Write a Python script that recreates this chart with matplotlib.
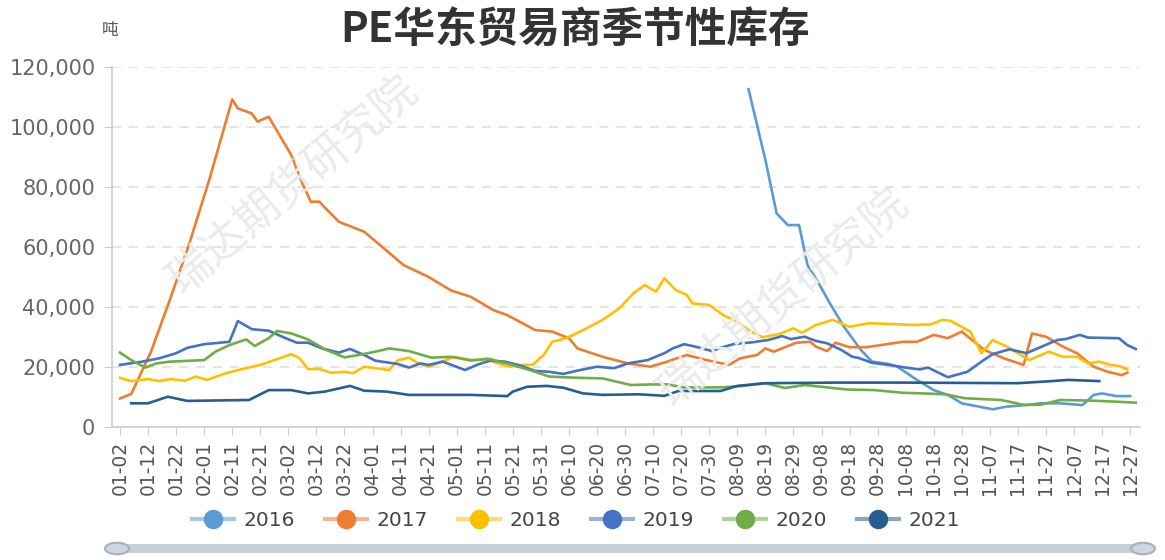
import matplotlib
matplotlib.use("Agg")
import matplotlib.pyplot as plt
from matplotlib.lines import Line2D
from matplotlib.patches import FancyBboxPatch, Circle
import matplotlib.colors as mcolors
import pandas as pd

plt.rcParams['font.family'] = ['DejaVu Sans', 'Noto Sans CJK SC']

title = "PE华东贸易商季节性库存"
unit = "吨"
watermark = "瑞达期货研究院"

tick_labels = ["01-02", "01-12", "01-22", "02-01", "02-11", "02-21", "03-02", "03-12",
               "03-22", "04-01", "04-11", "04-21", "05-01", "05-11", "05-21", "05-31",
               "06-10", "06-20", "06-30", "07-10", "07-20", "07-30", "08-09", "08-19",
               "08-29", "09-08", "09-18", "09-28", "10-08", "10-18", "10-28", "11-07",
               "11-17", "11-27", "12-07", "12-17", "12-27"]

dates_2016 = ["08-13", "08-19", "08-23", "08-27", "08-31", "09-03", "09-07", "09-11",
              "09-16", "09-22", "09-26", "10-02", "10-05", "10-12", "10-18", "10-23",
              "10-28", "11-03", "11-08", "11-13", "11-20", "11-25", "12-02", "12-10",
              "12-14", "12-17", "12-22", "12-27"]
vals_2016 = [112600, 89000, 71200, 67300, 67300, 54000, 47900, 41200,
             33400, 25700, 21800, 21000, 20100, 15700, 12300, 10700,
             7900, 6800, 5900, 6800, 7300, 7900, 7900, 7300,
             10700, 11200, 10300, 10300]

dates_2017 = ["01-02", "01-06", "01-13", "01-20", "01-27", "02-03", "02-11", "02-13",
              "02-18", "02-20", "02-24", "03-03", "03-07", "03-10", "03-13", "03-20",
              "03-29", "04-05", "04-12", "04-21", "04-29", "05-06", "05-14", "05-19",
              "05-29", "06-04", "06-10", "06-13", "06-22", "07-01", "07-09", "07-15",
              "07-22", "07-29", "08-06", "08-10", "08-16", "08-19", "08-22", "08-30",
              "09-04", "09-06", "09-10", "09-13", "09-18", "09-24", "10-02", "10-07",
              "10-12", "10-18", "10-23", "10-28", "11-05", "11-12", "11-19", "11-22",
              "11-27", "12-03", "12-08", "12-14", "12-19", "12-24", "12-26"]
vals_2017 = [9500, 11000, 25000, 43000, 62000, 83000, 109200, 106200,
             104500, 101800, 103400, 90700, 81200, 75100, 75100, 68400,
             65100, 59600, 54000, 50000, 45500, 43400, 39000, 37300,
             32300, 31800, 29600, 26200, 23400, 21200, 20100, 21800,
             24000, 22300, 20700, 22900, 24000, 26200, 25100, 28100,
             28400, 26800, 25300, 28100, 26600, 26600, 27700, 28400,
             28400, 30700, 29600, 31800, 25700, 22900, 20700, 31200,
             30100, 26800, 24600, 20100, 18400, 17300, 18100]

dates_2018 = ["01-02", "01-06", "01-12", "01-16", "01-20", "01-25", "01-29", "02-02",
              "02-08", "02-14", "02-21", "02-26", "03-03", "03-06", "03-09", "03-13",
              "03-17", "03-22", "03-25", "03-29", "04-02", "04-07", "04-10", "04-14",
              "04-17", "04-21", "04-26", "04-30", "05-06", "05-12", "05-15", "05-20",
              "05-25", "05-28", "06-01", "06-04", "06-09", "06-15", "06-22", "06-28",
              "07-03", "07-07", "07-11", "07-14", "07-18", "07-22", "07-24", "07-30",
              "08-04", "08-09", "08-13", "08-18", "08-24", "08-29", "09-01", "09-06",
              "09-12", "09-18", "09-25", "10-11", "10-17", "10-21", "10-24", "10-31",
              "11-04", "11-08", "11-13", "11-18", "11-21", "11-28", "12-03", "12-08",
              "12-12", "12-16", "12-20", "12-23", "12-26"]
vals_2018 = [16400, 15300, 16000, 15300, 16000, 15400, 16800, 15700,
             17700, 19200, 20700, 22300, 24300, 22900, 19300, 19400,
             18100, 18400, 17900, 20100, 19600, 19000, 22300, 23100,
             21400, 20100, 21800, 23400, 22000, 22900, 21400, 20100,
             20700, 20700, 24000, 28400, 29600, 32300, 35700, 39600,
             44600, 47300, 45100, 49600, 45700, 44000, 41200, 40700,
             37300, 35100, 32300, 29900, 31000, 32900, 31400, 34000,
             35700, 33400, 34600, 34000, 34200, 35700, 35400, 31800,
             24600, 29000, 26800, 24000, 22300, 25100, 23400, 23400,
             21200, 21800, 20700, 20300, 19200]

dates_2019 = ["01-02", "01-10", "01-16", "01-22", "01-26", "02-01", "02-10", "02-13",
              "02-18", "02-24", "03-01", "03-05", "03-09", "03-14", "03-20", "03-24",
              "03-29", "04-02", "04-10", "04-14", "04-18", "04-21", "04-26", "05-04",
              "05-09", "05-13", "05-18", "05-23", "05-29", "06-03", "06-08", "06-13",
              "06-20", "06-26", "07-01", "07-08", "07-14", "07-17", "07-21", "07-25",
              "07-31", "08-03", "08-08", "08-14", "08-20", "08-25", "08-28", "09-02",
              "09-06", "09-10", "09-15", "09-19", "09-21", "09-26", "10-02", "10-08",
              "10-13", "10-16", "10-23", "10-30", "11-04", "11-08", "11-14", "11-20",
              "11-26", "12-01", "12-04", "12-09", "12-12", "12-23", "12-26", "12-29"]
vals_2019 = [20700, 21800, 22900, 24600, 26400, 27600, 28400, 35300,
             32600, 32100, 29600, 28100, 28100, 26200, 24800, 26000,
             24000, 22100, 21000, 19800, 21200, 20700, 21800, 19000,
             21000, 22100, 21800, 20700, 18700, 18400, 17700, 18800,
             20100, 19600, 21200, 22300, 24600, 26200, 27600, 26800,
             25300, 26400, 27700, 28200, 29000, 30300, 29300, 30100,
             28700, 27900, 25700, 23400, 23100, 21400, 20700, 19800,
             19200, 19800, 16600, 18400, 21800, 24300, 25900, 24600,
             27000, 29000, 29300, 30700, 29800, 29600, 27300, 26000]

dates_2020 = ["01-02", "01-06", "01-11", "01-15", "01-20", "02-01", "02-05", "02-10",
              "02-16", "02-19", "02-24", "02-27", "03-03", "03-09", "03-15", "03-22",
              "03-27", "04-02", "04-07", "04-14", "04-22", "04-29", "05-06", "05-13",
              "05-20", "05-27", "06-03", "06-13", "06-22", "06-27", "07-02", "07-10",
              "07-15", "07-21", "08-03", "08-11", "08-19", "08-26", "09-02", "09-10",
              "09-17", "09-27", "10-07", "10-14", "10-22", "10-29", "11-11", "11-19",
              "11-25", "12-02", "12-13", "12-23", "12-29"]
vals_2020 = [24800, 22300, 19800, 21200, 21800, 22300, 25100, 27300,
             29200, 27000, 29600, 32000, 31200, 29200, 25900, 23200,
             24000, 25100, 26200, 25300, 23100, 23400, 22300, 22600,
             20900, 19000, 16800, 16400, 16200, 15100, 14000, 14200,
             14200, 13200, 13200, 13700, 14600, 13000, 14000, 13200,
             12500, 12300, 11400, 11200, 10900, 9600, 9000, 7400,
             7400, 9000, 8800, 8400, 8100]

dates_2021 = ["01-06", "01-12", "01-19", "01-26", "02-17", "02-24", "03-03", "03-09",
              "03-15", "03-24", "03-29", "04-06", "04-14", "05-06", "05-19", "05-21",
              "05-26", "06-02", "06-08", "06-15", "06-22", "07-05", "07-14", "07-19",
              "08-03", "08-09", "08-19", "09-13", "10-08", "11-17", "11-29", "12-05",
              "12-16"]
vals_2021 = [7900, 7900, 10100, 8700, 9000, 12300, 12300, 11200,
             11800, 13700, 12100, 11800, 10700, 10700, 10300, 11800,
             13400, 13700, 13100, 11200, 10700, 10900, 10400, 12000,
             12000, 13700, 14600, 14800, 14800, 14600, 15300, 15700,
             15300]

series = [
    ("2016", dates_2016, vals_2016, "#5B9BD5"),
    ("2017", dates_2017, vals_2017, "#ED7D31"),
    ("2018", dates_2018, vals_2018, "#FFC000"),
    ("2019", dates_2019, vals_2019, "#4472C4"),
    ("2020", dates_2020, vals_2020, "#70AD47"),
    ("2021", dates_2021, vals_2021, "#255E91"),
]

base = pd.Timestamp("2020-01-02")


def to_day(labels):
    return [(pd.Timestamp("2020-" + s) - base).days for s in labels]


W, H = 1165, 560
fig = plt.figure(figsize=(W / 100, H / 100), dpi=100)
ax = fig.add_axes([112 / W, 1 - 427 / H, (1140 - 112) / W, (427 - 67) / H])

for name, d, v, c in series:
    ax.plot(to_day(d), v, color=c, lw=1.9, solid_joinstyle="round", zorder=3)

ax.set_xlim(-2.85, 363.5)
ax.set_ylim(0, 120000)
ax.set_yticks(range(0, 120001, 20000))
ax.set_yticklabels([f"{t:,}" for t in range(0, 120001, 20000)], fontsize=15, color="#666666")
ax.set_xticks(to_day(tick_labels))
ax.set_xticklabels(tick_labels, rotation=90, fontsize=13.5, color="#555555")
ax.tick_params(axis="y", length=6, color="#cccccc", pad=6)
ax.tick_params(axis="x", length=6, color="#cccccc", pad=4)
for sp in ["top", "right"]:
    ax.spines[sp].set_visible(False)
for sp in ["left", "bottom"]:
    ax.spines[sp].set_color("#cccccc")
    ax.spines[sp].set_linewidth(1.2)
for t in range(20000, 120001, 20000):
    ax.axhline(t, color="#dddddd", lw=1.1, ls=(0, (6, 5)), zorder=1)

# watermarks
for (cx, cy) in [(292, 185), (782, 298)]:
    fig.text(cx / W, 1 - cy / H, watermark, fontsize=32, color="#ebebeb",
             rotation=40, ha="center", va="center", family="Noto Sans CJK SC",
             zorder=0)

fig.text(575 / W, 1 - 31 / H, title, fontsize=30, fontweight="bold", color="#333333",
         ha="center", va="center", family="Noto Sans CJK SC")
fig.text(110 / W, 1 - 30 / H, unit, fontsize=12, color="#555555",
         ha="center", va="center", family="Noto Sans CJK SC")

handles = []
for name, d, v, c in series:
    rgb = mcolors.to_rgb(c)
    light = tuple(0.55 * x + 0.45 for x in rgb)
    handles.append(Line2D([0], [0], color=light, lw=3, marker="o", markersize=13,
                          markerfacecolor=c, markeredgecolor=c))
fig.legend(handles, [s[0] for s in series], loc="center", ncol=6,
           bbox_to_anchor=(576 / W, 1 - 521 / H), frameon=False, fontsize=14.5,
           handlelength=2.1, handletextpad=0.45, columnspacing=1.5,
           labelcolor="#444444")

# data zoom slider
bar = FancyBboxPatch((117 / W, 1 - 553 / H), (1143 - 117) / W, 9 / H,
                     boxstyle="round,pad=0,rounding_size=0.004",
                     transform=fig.transFigure, facecolor="#c5ced9",
                     edgecolor="none")
fig.patches.append(bar)
for hx in [117, 1143]:
    circ = Circle((hx / W, 1 - 548.5 / H), 12 / W, transform=fig.transFigure,
                  facecolor="#cdd5df", edgecolor="#a6b1c0", lw=1.5)
    fig.patches.append(circ)

fig.savefig("out.png", dpi=100)
